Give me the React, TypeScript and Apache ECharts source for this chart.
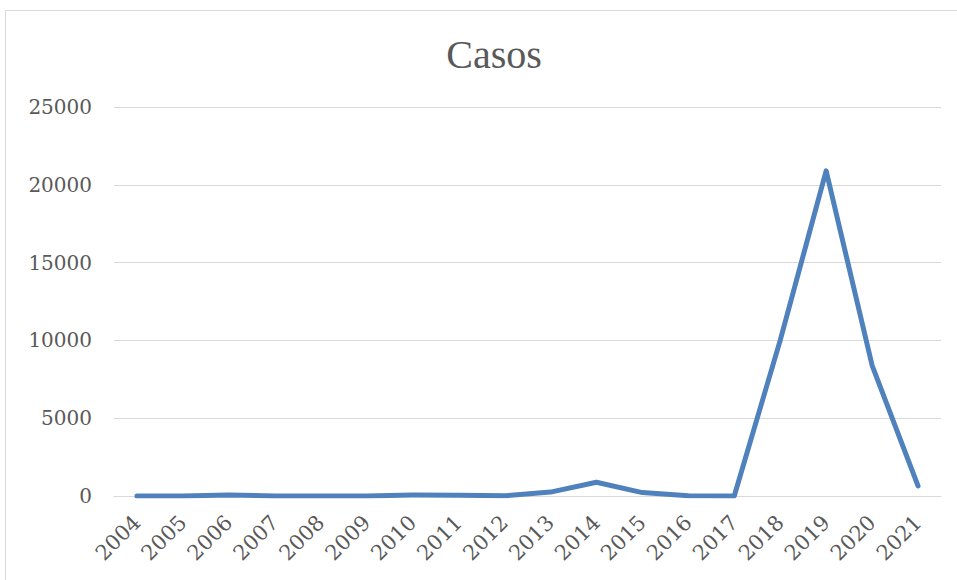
import React, { useEffect, useRef } from "react";
import * as echarts from "echarts";

const years = ["2004","2005","2006","2007","2008","2009","2010","2011","2012","2013","2014","2015","2016","2017","2018","2019","2020","2021"];
const casos = [5, 5, 60, 5, 5, 5, 60, 50, 10, 250, 880, 220, 20, 0, 10000, 20900, 8400, 650];
const yTicks = { min: 0, max: 25000, interval: 5000 };

export default function App() {
  const ref = useRef<HTMLDivElement>(null);
  useEffect(() => {
    if (!ref.current) return;
    const chart = echarts.init(ref.current, null, { renderer: "svg" });
    const font = "'DejaVu Serif', serif";
    chart.setOption({
      animation: false,
      backgroundColor: "#ffffff",
      graphic: [
        {
          type: "rect",
          shape: { x: 5.5, y: 10.5, width: 980, height: 600 },
          style: { fill: "none", stroke: "#d9d9d9", lineWidth: 1 },
          silent: true,
        },
      ],
      title: {
        text: "Casos",
        left: 489,
        textAlign: "center",
        top: 29,
        textStyle: { fontFamily: "'Liberation Serif', serif", fontSize: 40, fontWeight: "normal", color: "#595959" },
      },
      grid: { left: 114, right: 16, top: 107, bottom: 84, containLabel: false },
      xAxis: {
        type: "category",
        data: years,
        boundaryGap: true,
        axisLine: { show: true, lineStyle: { color: "#d9d9d9", width: 1 } },
        axisTick: { show: false },
        axisLabel: {
          rotate: 45,
          interval: 0,
          margin: 23,
          fontFamily: font,
          fontSize: 21,
          color: "#595959",
        },
      },
      yAxis: {
        type: "value",
        min: yTicks.min,
        max: yTicks.max,
        interval: yTicks.interval,
        axisLine: { show: false },
        axisTick: { show: false },
        splitLine: { lineStyle: { color: "#d9d9d9", width: 1 } },
        axisLabel: {
          margin: 22,
          fontFamily: font,
          fontSize: 20,
          color: "#595959",
          formatter: (v: number) => String(v),
        },
      },
      series: [
        {
          type: "line",
          data: casos,
          showSymbol: false,
          symbol: "none",
          lineStyle: { color: "#4f81bd", width: 5, cap: "round", join: "round" },
          itemStyle: { color: "#4f81bd" },
        },
      ],
    });
    return () => chart.dispose();
  }, []);
  return <div ref={ref} style={{ position: "fixed", left: 0, top: 0, width: 957, height: 580 }} />;
}
